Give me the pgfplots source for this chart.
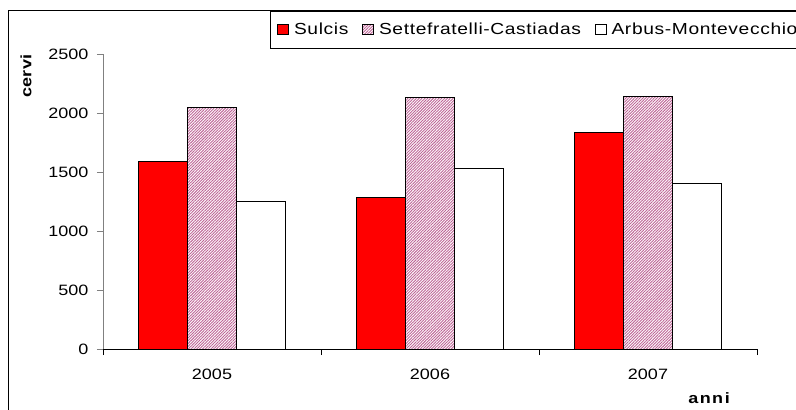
\documentclass[border=0pt]{standalone}
\usepackage{fontspec}
\setmainfont{Liberation Sans}[FakeStretch=1.2]
\usepackage{pgfplots}
\pgfplotsset{compat=1.18}
\usetikzlibrary{patterns.meta}
\definecolor{hatchfg}{RGB}{190,100,150}
\begin{document}
\begin{tikzpicture}[x=1pt,y=1pt]
\useasboundingbox (0,0) rectangle (796,410);
\clip (0,0) rectangle (796,410);
\draw[black, line width=1pt] (8,0) -- (8,399.3) -- (796,399.3);
\begin{axis}[
  at={(103pt,61pt)}, anchor=south west,
  scale only axis, width=654pt, height=295pt,
  xmin=-0.5, xmax=2.5, ymin=0, ymax=2500,
  ybar=0pt, bar width=49pt,
  axis x line*=bottom, axis y line*=left,
  x axis line style={black, line width=0.8pt, -},
  y axis line style={gray, line width=0.8pt, -},
  tick align=outside, major tick length=6pt,
  xtick={-0.5,0.5,1.5,2.5}, xticklabels={},
  x tick style={black, line width=0.8pt},
  y tick style={gray, line width=0.8pt},
  extra x ticks={0,1,2}, extra x tick labels={2005,2006,2007},
  extra x tick style={major tick length=0pt, tick label style={yshift=-16pt}},
  ytick={0,500,...,2500},
  /pgf/number format/assume math mode=true,
  /pgf/number format/1000 sep={},
  tick label style={font=\fontsize{15}{18}\selectfont},
  yticklabel style={xshift=-5pt},
  legend style={at={(0.2554,1.1468)}, anchor=north west, draw=black, line width=0.8pt,
    fill=white, font=\fontsize{16}{19}\selectfont\addfontfeature{LetterSpace=4}, legend columns=-1,
    inner xsep=7pt, inner ysep=10pt,
    /tikz/every odd column/.append style={column sep=3pt},
    /tikz/every even column/.append style={column sep=12pt}},
  legend image code/.code={\draw[#1, line width=0.6pt] (0pt,-5pt) rectangle (11pt,5pt);},
  every axis plot/.append style={draw=black, line width=0.8pt},
]
\addplot[fill=red] coordinates {(0,1590) (1,1285) (2,1835)};
\addplot[fill=white, postaction={pattern={Lines[angle=45,distance=2pt,line width=0.9pt]}, pattern color=hatchfg}] coordinates {(0,2045) (1,2130) (2,2140)};
\addplot[fill=white] coordinates {(0,1255) (1,1530) (2,1400)};
\legend{Sulcis, Settefratelli-Castiadas, Arbus-Montevecchio}
\end{axis}
\node[font=\bfseries\fontsize{15}{18}\selectfont, rotate=90] at (26,334) {cervi};
\node[font=\bfseries\fontsize{15}{18}\selectfont\addfontfeature{LetterSpace=10}] at (709,12) {anni};
\end{tikzpicture}
\end{document}
